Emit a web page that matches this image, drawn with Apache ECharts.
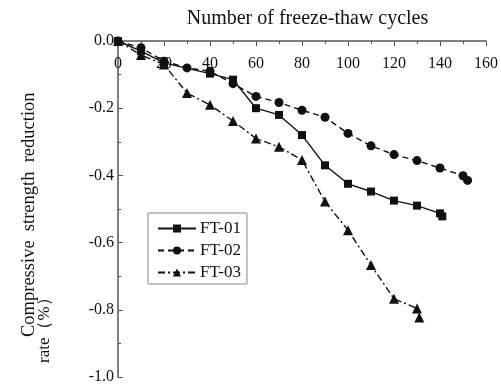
<!DOCTYPE html>
<html><head><meta charset="utf-8">
<script src="https://cdn.jsdelivr.net/npm/echarts@6/dist/echarts.min.js"></script>
<style>html,body{margin:0;padding:0;background:#fff}#c{width:501px;height:385px}</style>
</head><body><div id="c"></div>
<script>
const ft01X = [0,10,20,40,50,60,70,80,90,100,110,120,130,140,141];
const ft01Y = [0,-0.03,-0.065,-0.097,-0.115,-0.20,-0.22,-0.28,-0.37,-0.425,-0.448,-0.475,-0.49,-0.513,-0.522];
const ft02X = [0,10,20,30,40,50,60,70,80,90,100,110,120,130,140,150,152];
const ft02Y = [0,-0.02,-0.06,-0.08,-0.09,-0.127,-0.165,-0.183,-0.206,-0.227,-0.275,-0.312,-0.338,-0.356,-0.378,-0.401,-0.415];
const ft03X = [0,10,20,30,40,50,60,70,80,90,100,110,120,130,131];
const ft03Y = [0,-0.042,-0.07,-0.155,-0.19,-0.238,-0.29,-0.315,-0.354,-0.478,-0.563,-0.667,-0.767,-0.796,-0.823];
const seriesNames = ['FT-01','FT-02','FT-03'];
const xTitle = 'Number of freeze-thaw cycles';
const yTitle1 = 'Compressive  strength  reduction';
const yTitle2 = 'rate（%）';

const zip = (a,b)=>a.map((v,i)=>[v,b[i]]);
const font = 'Liberation Serif, Times New Roman, serif';
const ink = '#111';
const chart = echarts.init(document.getElementById('c'));
chart.setOption({
  animation:false,
  grid:{left:118,right:13,top:41,bottom:7,containLabel:false},
  xAxis:{type:'value',position:'top',min:0,max:160,interval:20,
    name:xTitle,nameLocation:'middle',nameGap:12,
    nameTextStyle:{fontFamily:font,fontSize:20,color:ink,padding:[0,0,0,11]},
    axisLine:{show:true,lineStyle:{color:'#555',width:1.5}},
    axisTick:{show:true,inside:true,length:5,lineStyle:{color:'#555'}},
    minorTick:{show:true,splitNumber:2,length:3,lineStyle:{color:'#555'}},
    axisLabel:{inside:true,fontFamily:font,fontSize:16,color:ink,margin:15},
    splitLine:{show:false}},
  yAxis:{type:'value',min:-1,max:0,interval:0.2,
    axisLine:{show:true,onZero:false,lineStyle:{color:'#555',width:1.5}},
    axisTick:{show:true,inside:true,length:5,lineStyle:{color:'#555'}},
    minorTick:{show:true,splitNumber:2,length:3,lineStyle:{color:'#555'}},
    axisLabel:{fontFamily:font,fontSize:16,color:ink,margin:4,formatter:v=>v.toFixed(1)},
    splitLine:{show:false}},
  legend:{orient:'vertical',left:148,top:213,
    borderColor:'#888',borderWidth:1,padding:[7,6,3,9],itemGap:5,
    itemWidth:38,itemHeight:10,
    textStyle:{fontFamily:font,fontSize:17,color:ink,padding:[0,0,0,-1]},
    data:seriesNames},
  graphic:[
    {type:'text',x:20,y:337,rotation:Math.PI/2,
     style:{text:yTitle1,font:'18.5px '+font,fill:ink}},
    {type:'text',x:36,y:363,rotation:Math.PI/2,
     style:{text:yTitle2,font:'17px '+font,fill:ink}}
  ],
  series:[
    {name:seriesNames[0],type:'line',data:zip(ft01X,ft01Y),symbol:'rect',symbolSize:8,
     lineStyle:{color:ink,width:1.4,type:'solid'},itemStyle:{color:ink}},
    {name:seriesNames[1],type:'line',data:zip(ft02X,ft02Y),symbol:'circle',symbolSize:9,
     lineStyle:{color:ink,width:1.4,type:[6,4]},itemStyle:{color:ink}},
    {name:seriesNames[2],type:'line',data:zip(ft03X,ft03Y),symbol:'triangle',symbolSize:10,
     lineStyle:{color:ink,width:1.4,type:[7,3,2,3]},itemStyle:{color:ink}}
  ]
});
</script></body></html>
